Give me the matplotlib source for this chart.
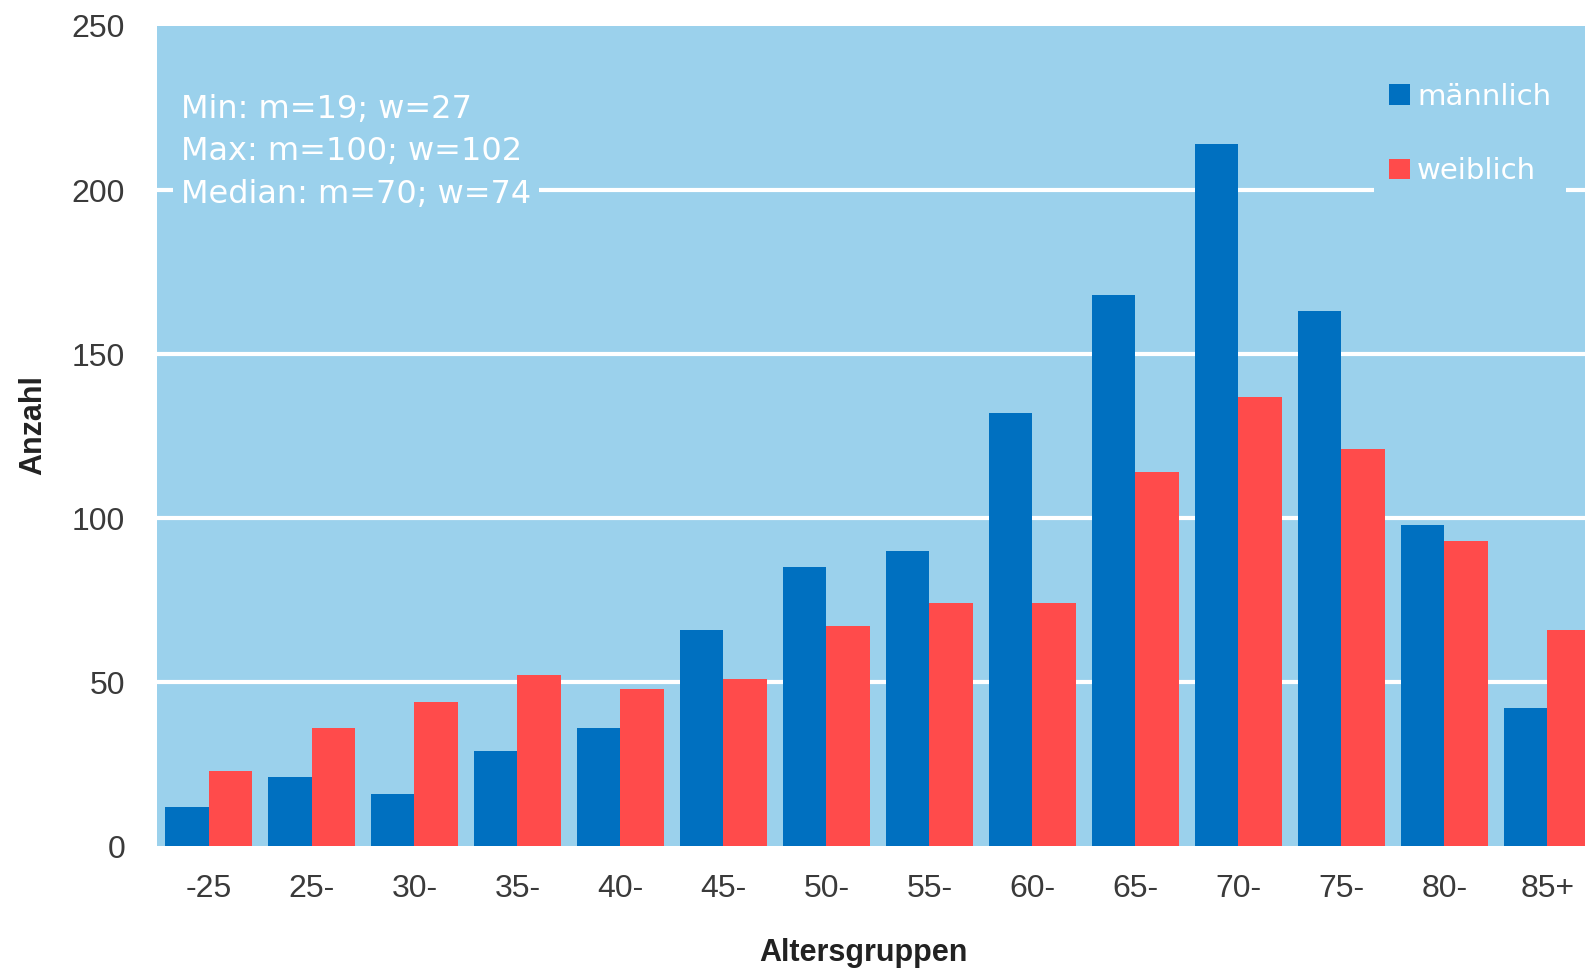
import matplotlib
matplotlib.use("Agg")
import matplotlib.pyplot as plt
from matplotlib.patches import Patch
import numpy as np

# ---- data ----
categories = ["-25", "25-", "30-", "35-", "40-", "45-", "50-", "55-", "60-", "65-",
              "70-", "75-", "80-", "85+"]
maennlich = [12, 21, 16, 29, 36, 66, 85, 90, 132, 168, 214, 163, 98, 42]
weiblich = [23, 36, 44, 52, 48, 51, 67, 74, 74, 114, 137, 121, 93, 66]
series_names = ["männlich", "weiblich"]
y_ticks = [0, 50, 100, 150, 200, 250]
grid_levels = [50, 100, 150, 200]
note_lines = ["Min: m=19; w=27", "Max: m=100; w=102", "Median: m=70; w=74"]

# ---- style ----
BG = "#9BD1EC"
BLUE = "#0070C0"
RED = "#FF4B4B"
TXT = "#3a3a3a"
W, H = 1585, 974

fig = plt.figure(figsize=(W / 100, H / 100), dpi=100)
left, right, top, bottom = 157, 1599, 26, 846
ax = fig.add_axes([left / W, 1 - bottom / H, (right - left) / W, (bottom - top) / H])
ax.set_facecolor(BG)
for s in ax.spines.values():
    s.set_visible(False)

x = np.arange(len(categories))
bw = 0.42
ax.bar(x - bw / 2, maennlich, width=bw, color=BLUE, zorder=3, linewidth=0)
ax.bar(x + bw / 2, weiblich, width=bw, color=RED, zorder=3, linewidth=0)
for g in grid_levels:
    ax.axhline(g, color="white", lw=3, zorder=1)

ax.set_xlim(-0.5, len(categories) - 0.5)
ax.set_ylim(0, 250)
ax.set_yticks(y_ticks)
ax.set_xticks(x)
ax.set_xticklabels(categories)
ax.tick_params(axis="both", length=0, labelsize=23, labelcolor=TXT)
ax.tick_params(axis="y", pad=23)
ax.tick_params(axis="x", pad=20)
for lab in ax.get_xticklabels() + ax.get_yticklabels():
    lab.set_fontfamily("Liberation Sans")

ax.set_xlabel("Altersgruppen", fontsize=22, fontweight="bold", color="#222222",
              fontfamily="Liberation Sans")
ax.xaxis.set_label_coords((863 - left) / (right - left), (bottom - 938) / (bottom - top))
ax.xaxis.label.set_va("top")
ax.set_ylabel("Anzahl", fontsize=22, fontweight="bold", color="#222222",
              fontfamily="Liberation Sans")
ax.yaxis.set_label_coords((33 - left) / (right - left), (bottom - 425) / (bottom - top))
ax.yaxis.label.set_va("center")

# annotation block
fig.text(181 / W, 1 - 152 / H, "\n".join(note_lines), color="white", fontsize=23,
         fontfamily="DejaVu Sans", ha="left", va="center", linespacing=1.46, zorder=5,
         bbox=dict(boxstyle="square,pad=0.25", facecolor=BG, edgecolor="none"))

# legend
handles = [Patch(facecolor=BLUE, edgecolor="none"), Patch(facecolor=RED, edgecolor="none")]
leg = ax.legend(handles, series_names, loc="upper left",
                bbox_to_anchor=(1374 / W, 1 - 68 / H), bbox_transform=fig.transFigure,
                frameon=True, facecolor=BG, edgecolor="none", framealpha=1, fancybox=False,
                prop={"family": "DejaVu Sans", "size": 21}, labelcolor="white",
                handlelength=0.72, handleheight=0.72, handletextpad=0.25,
                labelspacing=1.6, borderpad=0.5, borderaxespad=0)
leg.set_zorder(5)

fig.savefig("out.png", dpi=100)
